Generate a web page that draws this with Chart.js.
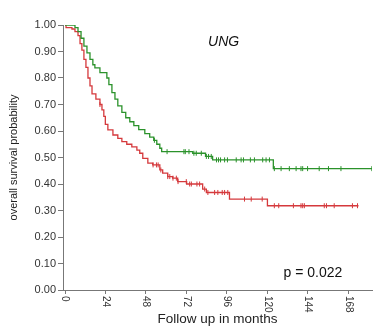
<!DOCTYPE html>
<html lang="en">

<head>
    <meta charset="UTF-8">
    <title>UNG survival</title>
    <script src="https://cdn.jsdelivr.net/npm/chart.js@4.4.0/dist/chart.umd.min.js"></script>
    <style>
        body { margin: 0; background: #fff; }
        #wrap { width: 377px; height: 328px; }
    </style>
</head>

<body>
    <div id="wrap"><canvas id="myChart" width="377" height="328"></canvas></div>

    <script type="text/javascript">

        // Kaplan-Meier steps (months, survival)
        const greenTimes = [0, 5.9, 7.7, 9.5, 11.2, 13, 14.8, 16.5, 17.7, 20.7, 24.8, 26, 27.8, 29.6, 31.3, 33.7, 36, 38.4, 40.8, 43.7, 47.3, 50.2, 52.6, 54.4, 56.2, 57.3, 75.7, 83.3, 87.5, 123.5, 182];
        const greenSurv = [1.0, 0.99, 0.975, 0.95, 0.92, 0.895, 0.87, 0.85, 0.838, 0.82, 0.80, 0.775, 0.745, 0.72, 0.695, 0.67, 0.65, 0.635, 0.62, 0.605, 0.59, 0.577, 0.565, 0.55, 0.535, 0.522, 0.516, 0.504, 0.491, 0.458, 0.458];

        const redTimes = [0, 0.6, 4.1, 5.9, 7.7, 8.9, 10, 11.2, 12.4, 13.6, 14.8, 16, 18.3, 20.7, 21.9, 23, 23.9, 25.4, 28.4, 31.3, 33.7, 36.6, 39.6, 42.6, 44.3, 46.1, 49.1, 52, 56.2, 57.9, 60.9, 63.8, 66.8, 72.1, 81.6, 83.8, 97.5, 120, 174];
        const redSurv = [1.0, 0.99, 0.985, 0.975, 0.96, 0.93, 0.905, 0.87, 0.84, 0.80, 0.77, 0.74, 0.72, 0.70, 0.68, 0.655, 0.625, 0.604, 0.585, 0.572, 0.56, 0.55, 0.54, 0.528, 0.516, 0.497, 0.479, 0.472, 0.453, 0.441, 0.428, 0.422, 0.409, 0.40, 0.381, 0.368, 0.343, 0.318, 0.318];

        // censoring times
        const greenCensor = [53, 60.5, 70.5, 71.3, 73.5, 76.4, 77.8, 80.8, 83.8, 85.1, 86.7, 89.8, 91, 92.2, 94.6, 96.3, 101.5, 104.4, 105.8, 109.9, 112.3, 117.2, 119.2, 121.2, 124.1, 128.1, 133, 137, 139.9, 140.9, 143.8, 150.7, 156.2, 163.6, 181.9];
        const redCensor = [20.7, 52.2, 54.2, 55.2, 56.8, 60.9, 62.1, 64, 66, 67, 71.9, 73.9, 74.9, 78.2, 79.8, 82.8, 84.7, 88.7, 90.6, 93.2, 94.6, 96.5, 106.4, 110.4, 116.9, 124.1, 126.7, 135.4, 139.9, 140.9, 141.9, 153.7, 155, 159.6, 170.4, 173.4];

        const xTicks = [0, 24, 48, 72, 96, 120, 144, 168];
        const yTicks = [0, 0.1, 0.2, 0.3, 0.4, 0.5, 0.6, 0.7, 0.8, 0.9, 1.0];

        const GREEN = '#2b922b';
        const RED = '#d5393c';

        // value of the step curve at time t (censor marks sit on the curve)
        function survAt(times, surv, t) {
            let v = surv[0];
            for (let i = 0; i < times.length; i++) {
                if (times[i] <= t) v = surv[i];
            }
            return v;
        }

        const toPts = (xs, ys) => xs.map((x, i) => ({ x: x, y: ys[i] }));
        const censorPts = (cs, times, surv) => cs.map(t => ({ x: t, y: survAt(times, surv, t) }));

        const labelsPlugin = {
            id: 'labels',
            afterDraw(chart) {
                const ctx = chart.ctx;
                const xs = chart.scales.x;
                const ys = chart.scales.y;
                ctx.save();
                ctx.fillStyle = '#333';
                ctx.font = '10px "Liberation Sans", Arial, sans-serif';
                ctx.textAlign = 'left';
                ctx.textBaseline = 'middle';
                xTicks.forEach(v => {
                    ctx.save();
                    ctx.translate(xs.getPixelForValue(v), chart.chartArea.bottom + 6);
                    ctx.rotate(Math.PI / 2);
                    ctx.fillText(String(v), 0, 0);
                    ctx.restore();
                });
                ctx.fillStyle = '#111';
                ctx.textAlign = 'center';
                ctx.font = 'italic 14px "Liberation Sans", Arial, sans-serif';
                ctx.fillText('UNG', xs.getPixelForValue(94), ys.getPixelForValue(0.936));
                ctx.font = '14px "Liberation Sans", Arial, sans-serif';
                ctx.fillText('p = 0.022', xs.getPixelForValue(147), ys.getPixelForValue(0.065));
                ctx.restore();
            }
        };

        const ctx = document.getElementById('myChart').getContext('2d');
        const myChart = new Chart(ctx, {
            type: 'line',
            data: {
                datasets: [{
                    data: toPts(greenTimes, greenSurv),
                    borderColor: GREEN,
                    borderWidth: 1.3,
                    stepped: true,
                    pointRadius: 0,
                    fill: false
                },
                {
                    data: toPts(redTimes, redSurv),
                    borderColor: RED,
                    borderWidth: 1.3,
                    stepped: true,
                    pointRadius: 0,
                    fill: false
                },
                {
                    data: censorPts(greenCensor, greenTimes, greenSurv),
                    showLine: false,
                    pointStyle: 'line',
                    rotation: 90,
                    pointRadius: 2.5,
                    borderColor: GREEN,
                    borderWidth: 1
                },
                {
                    data: censorPts(redCensor, redTimes, redSurv),
                    showLine: false,
                    pointStyle: 'line',
                    rotation: 90,
                    pointRadius: 2.5,
                    borderColor: RED,
                    borderWidth: 1
                }]
            },
            options: {
                responsive: false,
                animation: false,
                layout: { padding: { left: 0, right: 4, top: 25, bottom: 0 } },
                plugins: {
                    legend: { display: false },
                    tooltip: { enabled: false }
                },
                scales: {
                    x: {
                        type: 'linear',
                        min: -1.2,
                        max: 182,
                        afterBuildTicks: s => { s.ticks = xTicks.map(v => ({ value: v })); },
                        afterFit: s => { s.height = 38; },
                        grid: { drawOnChartArea: false, drawTicks: true, tickLength: 4, color: '#777' },
                        border: { color: '#777', width: 1 },
                        ticks: { display: false },
                        title: {
                            display: true,
                            text: 'Follow up in months',
                            color: '#222',
                            font: { family: '"Liberation Sans", Arial, sans-serif', size: 13.5 },
                            padding: { top: 0, bottom: 1 }
                        }
                    },
                    y: {
                        min: 0,
                        max: 1,
                        afterBuildTicks: s => { s.ticks = yTicks.map(v => ({ value: v })); },
                        afterFit: s => { s.width = 63; },
                        grid: { drawOnChartArea: false, drawTicks: true, tickLength: 5, color: '#777' },
                        border: { color: '#777', width: 1 },
                        ticks: {
                            padding: 2,
                            color: '#333',
                            font: { family: '"Liberation Sans", Arial, sans-serif', size: 11 },
                            callback: v => Number(v).toFixed(2)
                        },
                        title: {
                            display: true,
                            text: 'overall survival probability',
                            color: '#222',
                            font: { family: '"Liberation Sans", Arial, sans-serif', size: 11 },
                            padding: { top: 7, bottom: 0 }
                        }
                    }
                }
            },
            plugins: [labelsPlugin]
        });

    </script>
</body>

</html>
